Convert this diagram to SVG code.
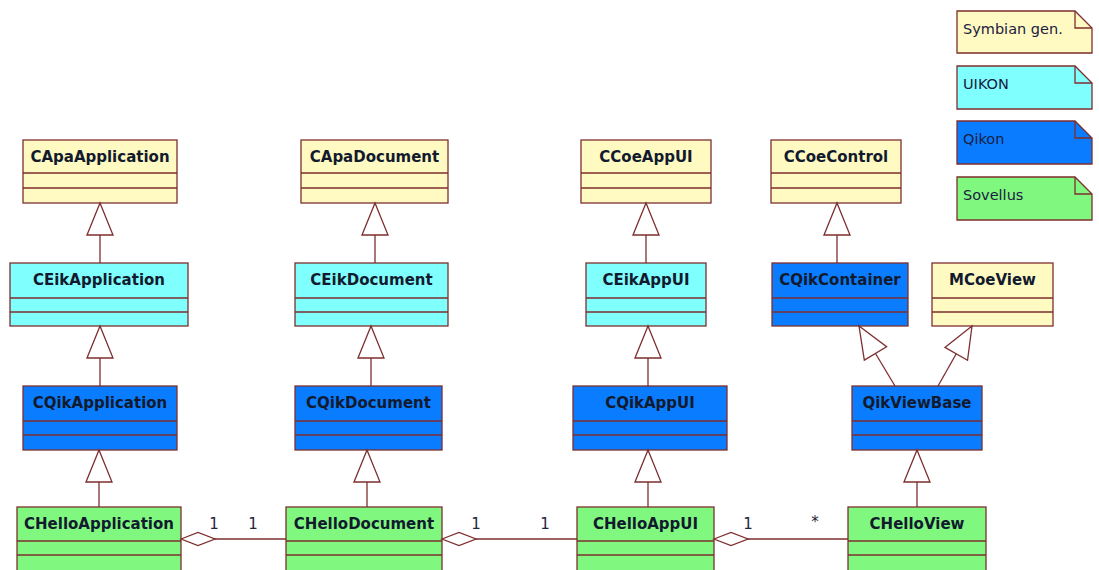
<svg xmlns="http://www.w3.org/2000/svg" width="1099" height="570" viewBox="0 0 1099 570">
  <style>
    .box rect, .box path { stroke: #7d2e2e; stroke-width: 1.3; }
    .box path { fill: none; }
    .sym rect { fill: #fff9c2; }
    .uik rect { fill: #80ffff; }
    .qik rect { fill: #0a7cff; }
    .app rect { fill: #80f880; }
    .name { font-family: "DejaVu Sans", Verdana, sans-serif; font-weight: bold; font-size: 15px; fill: #121a2e; text-anchor: middle; }
    .note path { stroke: #7d2e2e; stroke-width: 1.3; }
    .note .fold { fill: none; }
    .note text { font-family: "DejaVu Sans", Verdana, sans-serif; font-size: 14.5px; fill: #1a2040; }
    .link { stroke: #7d2e2e; stroke-width: 1.3; fill: none; }
    .gen { marker-end: url(#tri); }
    .agg { marker-start: url(#dia); }
    .mult { font-family: "DejaVu Sans", Verdana, sans-serif; font-size: 15px; fill: #22263a; text-anchor: middle; }
  </style>
  <defs>
    <!-- hollow generalization head, tip at the parent -->
    <marker id="tri" markerUnits="userSpaceOnUse" viewBox="-1 -1 34 28" refX="32" refY="13" markerWidth="34" markerHeight="28" orient="auto" overflow="visible">
      <path d="M0,0 L32,13 L0,26 Z" fill="#fff" stroke="#7d2e2e" stroke-width="1.3"/>
    </marker>
    <!-- hollow aggregation diamond at the owner -->
    <marker id="dia" markerUnits="userSpaceOnUse" viewBox="-1 -1 36 15" refX="0" refY="6.5" markerWidth="36" markerHeight="15" orient="auto" overflow="visible">
      <path d="M0,6.5 L17,0 L34,6.5 L17,13 Z" fill="#fff" stroke="#7d2e2e" stroke-width="1.3"/>
    </marker>
  </defs>

  <rect width="1099" height="570" fill="#fff"/>

  <!-- legend -->
  <g id="legend-symbian" class="note">
    <path d="M957,11 H1075 L1092,28 V53 H957 Z" fill="#fff9c2"/>
    <path class="fold" d="M1075,11 V28 H1092"/>
    <text x="963" y="34">Symbian gen.</text>
  </g>
  <g id="legend-uikon" class="note">
    <path d="M957,66 H1075 L1092,83 V109 H957 Z" fill="#80ffff"/>
    <path class="fold" d="M1075,66 V83 H1092"/>
    <text x="963" y="89">UIKON</text>
  </g>
  <g id="legend-qikon" class="note">
    <path d="M957,121 H1075 L1092,138 V164 H957 Z" fill="#0a7cff"/>
    <path class="fold" d="M1075,121 V138 H1092"/>
    <text x="963" y="144">Qikon</text>
  </g>
  <g id="legend-sovellus" class="note">
    <path d="M957,177 H1075 L1092,194 V220 H957 Z" fill="#80f880"/>
    <path class="fold" d="M1075,177 V194 H1092"/>
    <text x="963" y="200">Sovellus</text>
  </g>

  <!-- row 1 -->
  <g id="CApaApplication" class="box sym">
    <rect x="23" y="140" width="154" height="63"/>
    <path d="M23,173 H177 M23,188 H177"/>
    <text class="name" x="100" y="162">CApaApplication</text>
  </g>
  <g id="CApaDocument" class="box sym">
    <rect x="301" y="140" width="147" height="63"/>
    <path d="M301,173 H448 M301,188 H448"/>
    <text class="name" x="374.5" y="162">CApaDocument</text>
  </g>
  <g id="CCoeAppUI" class="box sym">
    <rect x="581" y="140" width="130" height="63"/>
    <path d="M581,173 H711 M581,188 H711"/>
    <text class="name" x="646" y="162">CCoeAppUI</text>
  </g>
  <g id="CCoeControl" class="box sym">
    <rect x="771" y="140" width="130" height="63"/>
    <path d="M771,173 H901 M771,188 H901"/>
    <text class="name" x="836" y="162">CCoeControl</text>
  </g>

  <!-- row 2 -->
  <g id="CEikApplication" class="box uik">
    <rect x="10" y="263" width="178" height="63"/>
    <path d="M10,298 H188 M10,312 H188"/>
    <text class="name" x="99" y="285">CEikApplication</text>
  </g>
  <g id="CEikDocument" class="box uik">
    <rect x="295" y="263" width="153" height="63"/>
    <path d="M295,298 H448 M295,312 H448"/>
    <text class="name" x="371.5" y="285">CEikDocument</text>
  </g>
  <g id="CEikAppUI" class="box uik">
    <rect x="586" y="263" width="120" height="63"/>
    <path d="M586,298 H706 M586,312 H706"/>
    <text class="name" x="646" y="285">CEikAppUI</text>
  </g>
  <g id="CQikContainer" class="box qik">
    <rect x="772" y="263" width="136" height="63"/>
    <path d="M772,298 H908 M772,312 H908"/>
    <text class="name" x="840" y="285">CQikContainer</text>
  </g>
  <g id="MCoeView" class="box sym">
    <rect x="932" y="263" width="121" height="63"/>
    <path d="M932,298 H1053 M932,312 H1053"/>
    <text class="name" x="992.5" y="285">MCoeView</text>
  </g>

  <!-- row 3 -->
  <g id="CQikApplication" class="box qik">
    <rect x="23" y="386" width="154" height="64"/>
    <path d="M23,421 H177 M23,435 H177"/>
    <text class="name" x="100" y="408">CQikApplication</text>
  </g>
  <g id="CQikDocument" class="box qik">
    <rect x="295" y="386" width="147" height="64"/>
    <path d="M295,421 H442 M295,435 H442"/>
    <text class="name" x="368.5" y="408">CQikDocument</text>
  </g>
  <g id="CQikAppUI" class="box qik">
    <rect x="573" y="386" width="154" height="64"/>
    <path d="M573,421 H727 M573,435 H727"/>
    <text class="name" x="650" y="408">CQikAppUI</text>
  </g>
  <g id="QikViewBase" class="box qik">
    <rect x="852" y="386" width="130" height="64"/>
    <path d="M852,421 H982 M852,435 H982"/>
    <text class="name" x="917" y="408">QikViewBase</text>
  </g>

  <!-- row 4 -->
  <g id="CHelloApplication" class="box app">
    <rect x="17" y="507" width="164" height="66"/>
    <path d="M17,541 H181 M17,555 H181"/>
    <text class="name" x="99" y="529">CHelloApplication</text>
  </g>
  <g id="CHelloDocument" class="box app">
    <rect x="286" y="507" width="156" height="66"/>
    <path d="M286,541 H442 M286,555 H442"/>
    <text class="name" x="364" y="529">CHelloDocument</text>
  </g>
  <g id="CHelloAppUI" class="box app">
    <rect x="577" y="507" width="137" height="66"/>
    <path d="M577,541 H714 M577,555 H714"/>
    <text class="name" x="645.5" y="529">CHelloAppUI</text>
  </g>
  <g id="CHelloView" class="box app">
    <rect x="848" y="507" width="138" height="66"/>
    <path d="M848,541 H986 M848,555 H986"/>
    <text class="name" x="917" y="529">CHelloView</text>
  </g>

  <!-- connectors -->
  <g id="connectors">
    <path class="link gen" d="M100,263 V203"/>
    <path class="link gen" d="M100,386 V326"/>
    <path class="link gen" d="M99,507 V450"/>
    <path class="link gen" d="M375,263 V203"/>
    <path class="link gen" d="M371,386 V326"/>
    <path class="link gen" d="M367,507 V450"/>
    <path class="link gen" d="M646,263 V203"/>
    <path class="link gen" d="M648,386 V326"/>
    <path class="link gen" d="M648,507 V450"/>
    <path class="link gen" d="M837,263 V203"/>
    <path class="link gen" d="M895,386 L859,326"/>
    <path class="link gen" d="M938,386 L972,326"/>
    <path class="link gen" d="M917,507 V450"/>
    <path class="link agg" d="M181,539 H286"/>
    <path class="link agg" d="M442,539 H577"/>
    <path class="link agg" d="M714,539 H848"/>
    <text class="mult" x="214" y="529">1</text>
    <text class="mult" x="253" y="529">1</text>
    <text class="mult" x="476" y="529">1</text>
    <text class="mult" x="545" y="529">1</text>
    <text class="mult" x="748" y="529">1</text>
    <text class="mult" x="815" y="527">*</text>
  </g>
</svg>
